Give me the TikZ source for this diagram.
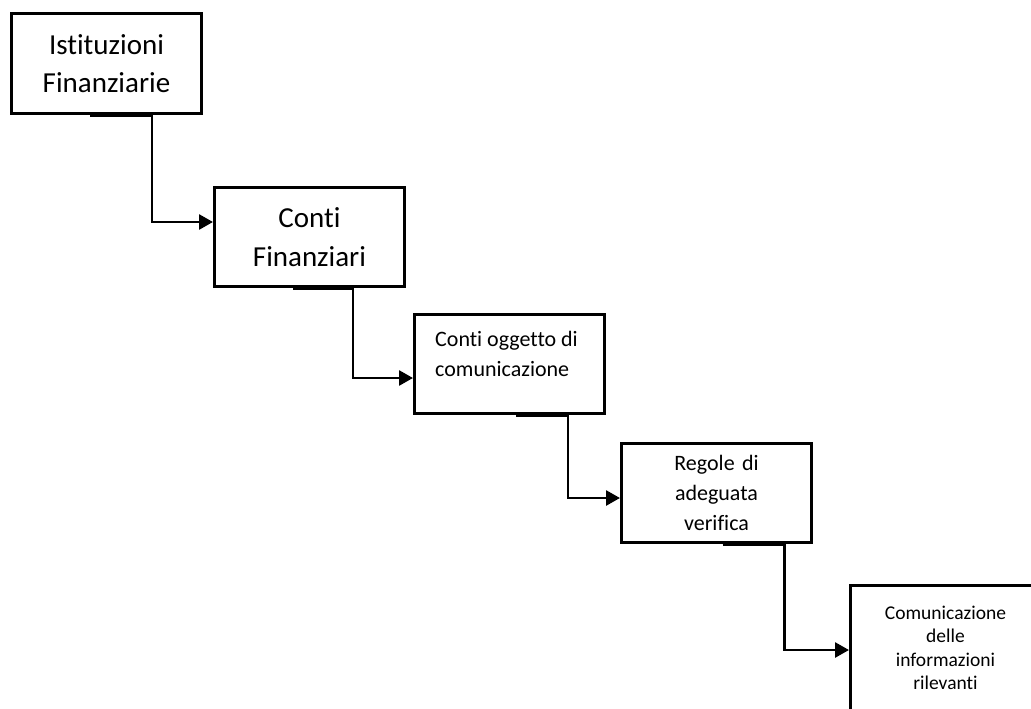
\documentclass[tikz,border=0pt]{standalone}
\usepackage{fontspec}
\setmainfont{Carlito}[Ligatures=NoCommon]
\usetikzlibrary{arrows.meta}

\begin{document}
\begin{tikzpicture}[x=1pt,y=1pt,
	box/.style={draw=black, line width=3pt, rectangle, anchor=north west, inner sep=0pt, minimum width=190pt, text width=186pt, align=center},
	bigtxt/.style={font=\fontsize{29}{38.5}\selectfont},
	midtxt/.style={font=\fontsize{22}{30}\selectfont},
	smalltxt/.style={font=\fontsize{19.5}{23.5}\selectfont},
	conn/.style={line width=2.7pt, -{Triangle[length=14pt,width=15pt]}}]
			\useasboundingbox (0,0) rectangle (1031,-709);
			\clip (0,0) rectangle (1031,-709);
			\node [box, bigtxt, minimum height=100pt] (b1) at (10,-12) {Istituzioni\\Finanziarie};
			\node [box, bigtxt, minimum height=99pt] (b2) at (213,-186) {Conti\\Finanziari};
			\node [box, minimum height=99pt] (b3) at (413,-313) {};
			\node [midtxt, anchor=north west, inner sep=0pt, align=left] (b3txt) at ([shift={(22,-18)}]b3.north west) {Conti oggetto di\\comunicazione};
			\node [box, midtxt, minimum height=99pt] (b4) at (620,-442) {Regole di\\adeguata\\verifica};
			\node [box, smalltxt, minimum height=125pt] (b5) at (849,-584) {Comunicazione\\delle\\informazioni\\rilevanti};
			\draw [conn] ([shift={(-16.5,-1)}]b1.south) -- ([shift={(45.5,-1)}]b1.south) |- ([yshift=15]b2.west);
			\draw [conn] ([shift={(-16.5,-1)}]b2.south) -- ([shift={(43.5,-1)}]b2.south) |- ([yshift=-14]b3.west);
			\draw [conn] ([shift={(6.5,-1)}]b3.south) -- ([shift={(58.5,-1)}]b3.south) |- ([yshift=-5]b4.west);
			\draw [conn] ([shift={(6,-1)}]b4.south) -- ([shift={(68,-1)}]b4.south) |- ([yshift=-2]b5.west);
\end{tikzpicture}
\end{document}
